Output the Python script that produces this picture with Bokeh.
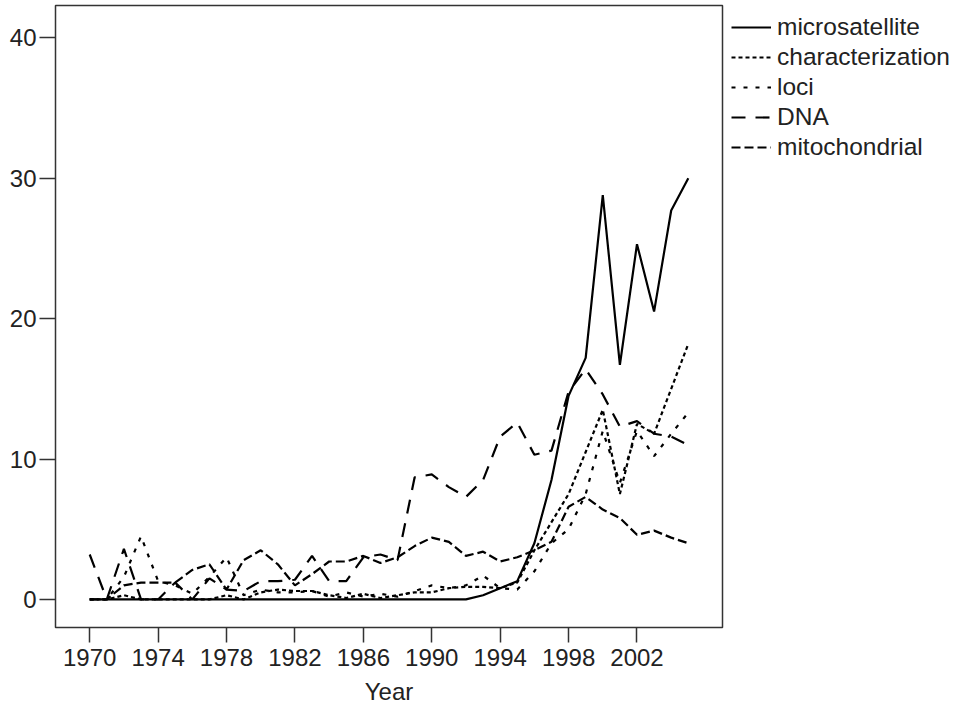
from bokeh.plotting import figure
from bokeh.models import FixedTicker, Legend, LegendItem, Range1d
from bokeh.embed import file_html
from bokeh.resources import INLINE

years = list(range(1970, 2006))

microsatellite = [0, 0, 0, 0, 0, 0, 0, 0, 0, 0, 0, 0, 0, 0, 0, 0, 0, 0, 0, 0,
                  0, 0, 0, 0.3, 0.8, 1.3, 4.0, 8.5, 14.5, 17.2, 28.8, 16.7, 25.3, 20.5, 27.7, 30.0]
characterization = [0, 0, 0.3, 0, 0, 0, 0, 0, 0.3, 0, 0.5, 0.7, 0.6, 0.6, 0.3, 0.1, 0.4, 0.1,
                    0.3, 0.5, 0.5, 0.8, 0.9, 0.9, 0.8, 1.2, 3.5, 5.5, 7.5, 10.5, 13.5, 7.5, 12.5, 11.8, 15.0, 18.2]
loci = [0, 0, 1.6, 4.5, 1.3, 1.0, 0.4, 1.6, 3.0, 0.3, 0.7, 0.5, 0.5, 0.6, 0.2, 0.5, 0.2, 0.4,
        0.2, 0.6, 1.0, 0.8, 1.0, 1.7, 0.8, 0.7, 2.0, 4.0, 5.0, 7.5, 12.0, 8.3, 12.0, 10.2, 11.8, 13.3]
dna = [3.2, 0, 3.6, 0, 0, 1.2, 0, 1.5, 0.7, 0.6, 1.3, 1.3, 1.4, 3.1, 1.3, 1.3, 3.0, 3.2,
       2.8, 8.7, 8.9, 8.0, 7.3, 8.5, 11.6, 12.6, 10.3, 10.6, 14.8, 16.4, 14.6, 12.3, 12.7, 11.8, 11.6, 11.0]
mitochondrial = [0, 0, 1.0, 1.2, 1.2, 1.2, 2.1, 2.5, 0.7, 2.8, 3.5, 2.5, 1.0, 1.8, 2.7, 2.7, 3.1, 2.6,
                 3.0, 3.8, 4.4, 4.1, 3.1, 3.4, 2.7, 3.0, 3.5, 4.1, 6.6, 7.3, 6.4, 5.8, 4.6, 4.9, 4.4, 4.0]

x_ticks = list(range(1970, 2003, 4))
y_ticks = [0, 10, 20, 30, 40]

series = [
    ("microsatellite", microsatellite, "solid"),
    ("characterization", characterization, "4 3"),
    ("loci", loci, "4 8"),
    ("DNA", dna, "14 10"),
    ("mitochondrial", mitochondrial, "9 4"),
]

FONT = "Liberation Sans"
TXT = "#222222"

p = figure(frame_width=667, frame_height=622, min_border_left=55, min_border_right=228,
           min_border_top=5, min_border_bottom=76,
           x_range=Range1d(1968.0, 2007.0), y_range=Range1d(-2.0, 42.3),
           output_backend="svg", toolbar_location=None)

p.xgrid.visible = False
p.ygrid.visible = False
p.outline_line_color = "#333333"
p.outline_line_width = 1.5
p.background_fill_color = "white"
p.border_fill_color = "white"

for ax in (p.xaxis[0], p.yaxis[0]):
    ax.axis_line_color = None
    ax.major_tick_line_color = "#333333"
    ax.major_tick_line_width = 1.5
    ax.major_tick_in = 0
    ax.minor_tick_line_color = None
    ax.major_label_text_font = FONT
    ax.major_label_text_font_size = "24px"
    ax.major_label_text_color = TXT

p.xaxis.ticker = FixedTicker(ticks=x_ticks)
p.xaxis.major_tick_out = 15
p.xaxis.major_label_standoff = 6
p.xaxis.axis_label = "Year"
p.xaxis.axis_label_text_font = FONT
p.xaxis.axis_label_text_font_size = "24px"
p.xaxis.axis_label_text_font_style = "normal"
p.xaxis.axis_label_text_color = TXT
p.xaxis.axis_label_standoff = 9

p.yaxis.ticker = FixedTicker(ticks=y_ticks)
p.yaxis.major_tick_out = 16
p.yaxis.major_label_standoff = 3

items = []
for name, vals, dash in series:
    r = p.line(years, vals, line_color="black", line_width=2.2, line_dash=dash)
    items.append(LegendItem(label=name, renderers=[r]))

legend = Legend(items=items, location=(9, 466), padding=0, margin=0, spacing=2,
                glyph_width=40, glyph_height=24, label_height=24, label_standoff=6,
                label_text_font=FONT, label_text_font_size="24.5px", label_text_color=TXT,
                border_line_color=None, background_fill_alpha=0)
p.add_layout(legend, "right")

open("out.html", "w").write(file_html(p, INLINE))
